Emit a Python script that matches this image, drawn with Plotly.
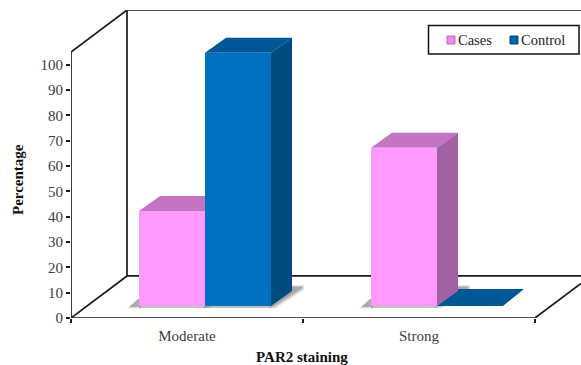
import plotly.graph_objects as go

categories = ["Moderate", "Strong"]
series_names = ["Cases", "Control"]
cases = [37.5, 62.5]
control = [100, 0]
y_ticks = list(range(0, 101, 10))
x_title = "PAR2 staining"
y_title = "Percentage"

# colours: front, top, side
PINK = ("#FF99FF", "#C273C2", "#A261A4")
BLUE = ("#0070C0", "#005796", "#004B80")

# scale of the drawing (axis units)
PX_X = 232.0           # pixels per category
PX_Y = 2.53            # pixels per percent
BAR_W = 66 / PX_X
SHIFT = 18 / PX_X      # bars stand back from the front edge of the floor
LIFT = 12 / PX_Y
DX, DY = 21 / PX_X, 15 / PX_Y          # bar depth
WX, WY = 56 / PX_X, 42 / PX_Y          # wall depth
X0, X1 = -0.5, 1.5
Y_MAX = 105
Y_TOP = Y_MAX + WY
X_MAX = (581 - 187) / PX_X
PLOT_W, PLOT_H = 510.0, 308.0


def px(x):
    return x / PX_X


def py(y):
    return y / PX_Y


def line(x0, y0, x1, y1, color="#1a1a1a", width=1.7):
    return dict(type="line", xref="x", yref="y", x0=x0, y0=y0, x1=x1, y1=y1,
                line=dict(color=color, width=width), layer="below")


def poly(points, color):
    path = "M " + " L ".join(f"{x:.4f},{y:.4f}" for x, y in points) + " Z"
    return dict(type="path", xref="x", yref="y", path=path, fillcolor=color,
                line=dict(width=0), layer="below")


def right_shadow(xc):
    r = xc + BAR_W / 2
    b = LIFT
    out = []
    for grow, alpha in ((2.0, 0.18), (1.0, 0.25), (0.0, 0.35)):
        out.append(poly([(r - px(2), b - py(1 + grow)), (r + px(3 + grow), b - py(grow)),
                         (r + px(31 + grow), b + py(18 - grow)),
                         (r + px(31 + grow), b + py(19 + grow)),
                         (r + DX, b + py(19 + grow))], f"rgba(110,110,110,{alpha})"))
    return out


def left_shadow(xc):
    l = xc - BAR_W / 2
    b = LIFT
    out = []
    for grow, alpha in ((1.5, 0.22), (0.0, 0.45)):
        out.append(poly([(l - px(10 + grow), b - py(1 + grow)), (l + px(2), b - py(1 + grow)),
                         (l + px(2), b + py(7)), (l - px(1), b + py(7))],
                        f"rgba(110,110,110,{alpha})"))
    return out


def under_shadow(xc):
    l, r = xc - BAR_W / 2, xc + BAR_W / 2
    return [poly([(l, LIFT), (r, LIFT), (r, LIFT - py(2)), (l, LIFT - py(2))],
                 "rgba(120,120,120,0.45)")]


def faces(xc, value, colors):
    """Top and side of one bar; a zero bar is only a flat plate on the floor."""
    l, r = xc - BAR_W / 2, xc + BAR_W / 2
    b, t = LIFT, LIFT + value
    if value > 0:
        return [poly([(l, t), (l + DX, t + DY), (r + DX, t + DY), (r, t)], colors[1]),
                poly([(r, b), (r + DX, b + DY), (r + DX, t + DY), (r, t)], colors[2])]
    return [poly([(l, b), (l + DX, b + py(17)), (r + DX, b + py(17)), (r, b)], colors[1])]


x_cases = [i + SHIFT - BAR_W / 2 for i in range(len(categories))]
x_control = [i + SHIFT + BAR_W / 2 for i in range(len(categories))]

shapes = [
    line(X0, 0, X0, Y_MAX),
    line(X0, Y_MAX, X0 + WX, Y_TOP),
    line(X0 + WX, Y_TOP, X_MAX, Y_TOP),
    line(X0 + WX, WY, X0 + WX, Y_TOP),
    line(X0, 0, X0 + WX, WY),
    line(X0 + WX, WY, X_MAX, WY),
    line(X0, 0, X1, 0),
    line(X1, 0, X_MAX, py((X_MAX - X1) * PX_X * 0.75)),
]
for x in x_cases:
    shapes += left_shadow(x) + under_shadow(x)
for x, v in zip(x_control, control):
    if v > 0:
        shapes += under_shadow(x) + right_shadow(x)
for x, v in zip(x_cases, cases):
    shapes += right_shadow(x)
for xs, vals, cols in ((x_control, control, BLUE), (x_cases, cases, PINK)):
    for x, v in zip(xs, vals):
        shapes += faces(x, v, cols)


# legend and titles placed in paper coordinates (the originals are off-centre)
def paper_x(p):
    return (p - 71) / PLOT_W


def paper_y(p):
    return (318 - p) / PLOT_H


def paper_rect(x0, y0, x1, y1, fill, edge, width):
    return dict(type="rect", xref="paper", yref="paper", x0=paper_x(x0), x1=paper_x(x1),
                y0=paper_y(y1), y1=paper_y(y0), fillcolor=fill,
                line=dict(color=edge, width=width), layer="above")


shapes.append(paper_rect(428.5, 25.5, 579, 54, "white", "#111111", 1.5))
shapes.append(paper_rect(447, 36, 455, 44, "#E88CE8", "#B868B8", 1))
shapes.append(paper_rect(510, 36, 518, 44, "#0062AA", "#004B80", 1))

SERIF = "Liberation Serif, Times New Roman, serif"
annotations = [
    dict(text=series_names[0], xref="paper", yref="paper", x=paper_x(456), y=paper_y(40),
         xanchor="left", yanchor="middle", showarrow=False,
         font=dict(family=SERIF, size=14.5, color="#222222")),
    dict(text=series_names[1], xref="paper", yref="paper", x=paper_x(519), y=paper_y(40),
         xanchor="left", yanchor="middle", showarrow=False,
         font=dict(family=SERIF, size=14.5, color="#222222")),
    dict(text=f"<b>{x_title}</b>", xref="paper", yref="paper", x=paper_x(302), y=paper_y(357),
         xanchor="center", yanchor="middle", showarrow=False,
         font=dict(family=SERIF, size=15, color="#111111")),
    dict(text=f"<b>{y_title}</b>", xref="paper", yref="paper", x=paper_x(18), y=paper_y(180),
         xanchor="center", yanchor="middle", showarrow=False, textangle=-90,
         font=dict(family=SERIF, size=15, color="#111111")),
]

fig = go.Figure()
fig.add_bar(name=series_names[0], x=x_cases, y=cases, base=LIFT, width=BAR_W,
            marker=dict(color=PINK[0], line=dict(width=0)))
fig.add_bar(name=series_names[1], x=x_control, y=control, base=LIFT, width=BAR_W,
            marker=dict(color=BLUE[0], line=dict(width=0)))

fig.update_layout(
    width=581, height=365, autosize=False,
    margin=dict(l=71, r=0, t=10, b=47, autoexpand=False),
    paper_bgcolor="white", plot_bgcolor="white",
    barmode="overlay", shapes=shapes, annotations=annotations, showlegend=False,
    font=dict(family=SERIF, size=15, color="#404040"),
    xaxis=dict(range=[X0, X_MAX], tickmode="array",
               tickvals=list(range(len(categories))), ticktext=categories,
               ticks="", ticklen=0, showgrid=False, zeroline=False, showline=False,
               automargin=False, ticklabelstandoff=7,
               tickfont=dict(family=SERIF, size=15, color="#404040"),
               minor=dict(tickmode="array", tickvals=[X0, 0.5, X1], ticks="outside",
                          ticklen=4, tickwidth=1.5, tickcolor="#1a1a1a", showgrid=False)),
    yaxis=dict(range=[0, Y_TOP], tickmode="array", tickvals=y_ticks,
               ticks="outside", ticklen=4, tickwidth=1.5, tickcolor="#1a1a1a",
               showgrid=False, zeroline=False, showline=False, automargin=False,
               tickfont=dict(family=SERIF, size=15, color="#404040")),
)
fig.write_html("out.html", config=dict(displayModeBar=False),
               post_script="document.body.style.margin='0';document.body.style.overflow='hidden';")
